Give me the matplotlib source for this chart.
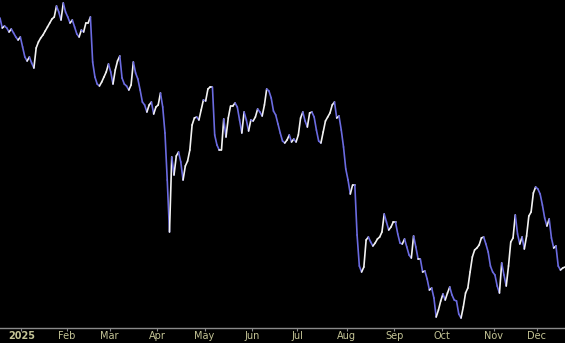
import numpy as np
import pandas as pd
import matplotlib
matplotlib.use('Agg')
import matplotlib.pyplot as plt
from matplotlib.collections import LineCollection

# daily closes (arbitrary price units), NYSE trading days from 2024-12-17
close = [
    322, 312, 314, 312, 308, 311, 307, 303, 300, 303,
    293, 283, 279, 283, 277, 272, 292, 298, 302, 305,
    309, 313, 317, 321, 323, 334, 328, 320, 337, 328,
    323, 317, 320, 313, 306, 303, 310, 308, 317, 317,
    323, 278, 263, 256, 254, 258, 263, 268, 276, 268,
    256, 270, 279, 284, 262, 256, 254, 250, 255, 278,
    267, 261, 250, 238, 235, 228, 235, 238, 226, 233,
    235, 247, 233, 207, 160, 108, 183, 165, 184, 188,
    178, 160, 174, 179, 190, 215, 222, 223, 220, 230,
    240, 239, 251, 253, 253, 205, 195, 190, 190, 221,
    203, 222, 234, 234, 237, 233, 220, 207, 228, 220,
    209, 220, 219, 223, 231, 228, 224, 235, 251, 249,
    242, 229, 225, 216, 207, 199, 197, 200, 205, 198,
    201, 198, 205, 222, 228, 219, 213, 227, 228, 223,
    210, 199, 197, 208, 219, 223, 227, 235, 238, 222,
    224, 210, 193, 171, 160, 146, 155, 155, 105, 74,
    68, 73, 100, 103, 98, 94, 97, 101, 103, 108,
    126, 118, 110, 113, 118, 118, 106, 97, 96, 101,
    93, 85, 82, 104, 93, 81, 81, 68, 69, 61,
    50, 52, 42, 23, 30, 39, 46, 40, 47, 53,
    45, 40, 39, 26, 22, 33, 47, 52, 68, 83,
    90, 92, 95, 102, 103, 96, 88, 74, 68, 65,
    54, 47, 77, 65, 54, 74, 98, 102, 125, 106,
    96, 103, 91, 104, 124, 128, 147, 153, 151, 146,
    135, 122, 114, 121, 102, 92, 94, 74, 70, 72,
    73,
]

holidays = ['2024-12-25', '2025-01-01', '2025-01-09', '2025-01-20', '2025-02-17',
            '2025-04-18', '2025-05-26', '2025-06-19', '2025-07-04', '2025-09-01',
            '2025-11-27', '2025-12-25']
month_labels = ['2025', 'Feb', 'Mar', 'Apr', 'May', 'Jun', 'Jul', 'Aug', 'Sep', 'Oct', 'Nov', 'Dec']

bday = pd.offsets.CustomBusinessDay(holidays=holidays)
dates = pd.date_range('2024-12-17', periods=len(close), freq=bday)
y = np.array(close, dtype=float)
x = np.arange(len(y))

# month ticks: between last day of previous month and first day of the month
ticks = []
for m in range(1, 13):
    first = np.argmax(dates >= pd.Timestamp(2025, m, 1))
    ticks.append(first - 0.5)

fig = plt.figure(figsize=(5.65, 3.43), dpi=100, facecolor='black')
ax = fig.add_axes([0, 15 / 343, 1, 328 / 343], facecolor='black')

pts = np.column_stack([x, y]).reshape(-1, 1, 2)
segs = np.concatenate([pts[:-1], pts[1:]], axis=1)
up = np.diff(y) >= 0
cols = np.where(up[:, None], np.array([[0.95, 0.95, 0.95, 1.0]]), np.array([[0.42, 0.42, 0.88, 1.0]]))
lc = LineCollection(segs, colors=cols, linewidths=1.2, capstyle='round', joinstyle='round')
ax.add_collection(lc)

ax.set_xlim(0, len(y) - 1)
ax.set_ylim(12, 340)
for s in ['top', 'right', 'left']:
    ax.spines[s].set_visible(False)
ax.spines['bottom'].set_color('#8a8a8a')
ax.spines['bottom'].set_linewidth(1.0)
ax.set_yticks([])
ax.set_xticks(ticks)
ax.set_xticklabels(month_labels, fontsize=7, family='DejaVu Sans')
ax.get_xticklabels()[0].set_fontweight('bold')
ax.tick_params(axis='x', colors='#8a8a8a', length=2, width=0.8, pad=0.5, labelcolor='#c4c496')

fig.savefig('out.png', dpi=100, facecolor='black')
